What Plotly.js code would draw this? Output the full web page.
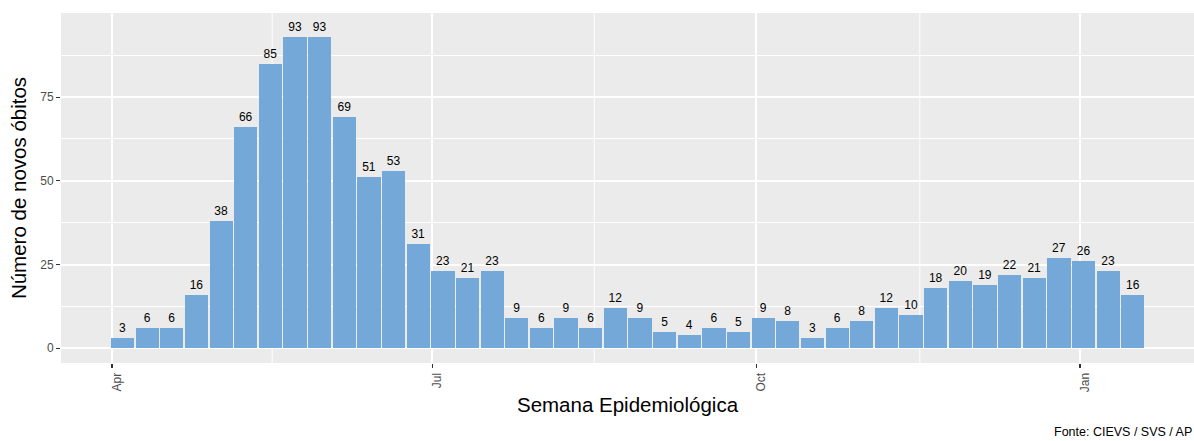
<!DOCTYPE html>
<html>
<head>
<meta charset="utf-8">
<script src="https://cdn.plot.ly/plotly-3.0.1.min.js"></script>
<style>body{margin:0;padding:0;background:#fff}#chart{width:1194px;height:441px}</style>
</head>
<body>
<div id="chart"></div>
<script>
// Epidemiological weeks (week ending dates) and new deaths
var firstWeek = '2020-04-04';
var deaths = [3,6,6,16,38,66,85,93,93,69,51,53,31,23,21,23,9,6,9,6,12,9,5,4,6,5,9,8,3,6,8,12,10,18,20,19,22,21,27,26,23,16];
var tickVals = ['2020-04-01','2020-07-01','2020-10-01','2021-01-01'];
var tickText = ['Apr','Jul','Oct','Jan'];
var minorGrid = ['2020-05-16 12:00','2020-08-16','2020-11-16 12:00'];

function addDays(s, n){
  var d = new Date(s + 'T00:00:00Z');
  d.setUTCDate(d.getUTCDate() + n);
  return d.toISOString().slice(0,10);
}
var weeks = deaths.map(function(_, i){ return addDays(firstWeek, 7*i); });

var DAY = 86400000;
var trace = {
  type: 'bar',
  x: weeks,
  y: deaths,
  width: 6.6*DAY,
  marker: {color: '#74a8d8', line: {width: 0}},
  text: deaths.map(String),
  textposition: 'outside',
  textfont: {family: 'Liberation Sans, Arial, sans-serif', size: 12, color: '#000'},
  cliponaxis: false,
  hoverinfo: 'x+y'
};

var shapes = minorGrid.map(function(d){
  return {type:'line', xref:'x', yref:'paper', x0:d, x1:d, y0:0, y1:1,
          line:{color:'#ffffff', width:1}, layer:'below'};
});

var layout = {
  width: 1194, height: 441,
  margin: {l: 61, r: 0, t: 13, b: 78},
  paper_bgcolor: '#ffffff',
  plot_bgcolor: '#ebebeb',
  font: {family: 'Liberation Sans, Arial, sans-serif', color: '#000'},
  showlegend: false,
  bargap: 0,
  xaxis: {
    type: 'date',
    range: ['2020-03-17 12:15', '2021-02-02 09:00'],
    tickmode: 'array', tickvals: tickVals, ticktext: tickText,
    tickangle: -90,
    ticklabelshift: 5,
    tickfont: {size: 12, color: '#4d4d4d'},
    ticks: 'outside', ticklen: 4, tickwidth: 1.1, tickcolor: '#333333',
    showgrid: true, gridcolor: '#ffffff', gridwidth: 2,
    zeroline: false, showline: false,
    title: {text: 'Semana Epidemiológica', font: {size: 20.5, color: '#000'}, standoff: 6}
  },
  yaxis: {
    range: [-4.4, 100.1],
    tickmode: 'array', tickvals: [0,25,50,75], ticktext: ['0','25','50','75'],
    tickfont: {size: 12, color: '#4d4d4d'},
    ticks: 'outside', ticklen: 4, tickwidth: 1.1, tickcolor: '#333333',
    showgrid: true, gridcolor: '#ffffff', gridwidth: 2,
    minor: {tickmode: 'array', tickvals: [12.5,37.5,62.5,87.5], showgrid: true, gridcolor: '#ffffff', gridwidth: 1, ticks: ''},
    zeroline: false, showline: false,
    title: {text: 'Número de novos óbitos', font: {size: 20.5, color: '#000'}, standoff: 8}
  },
  shapes: shapes,
  annotations: [{
    text: 'Fonte: CIEVS / SVS / AP', xref: 'paper', yref: 'paper',
    x: 1, y: 0, xanchor: 'right', yanchor: 'top', yshift: -60,
    showarrow: false, font: {size: 12.5, color: '#000'}
  }]
};

Plotly.newPlot('chart', [trace], layout, {displayModeBar: false, staticPlot: true});
</script>
</body>
</html>
